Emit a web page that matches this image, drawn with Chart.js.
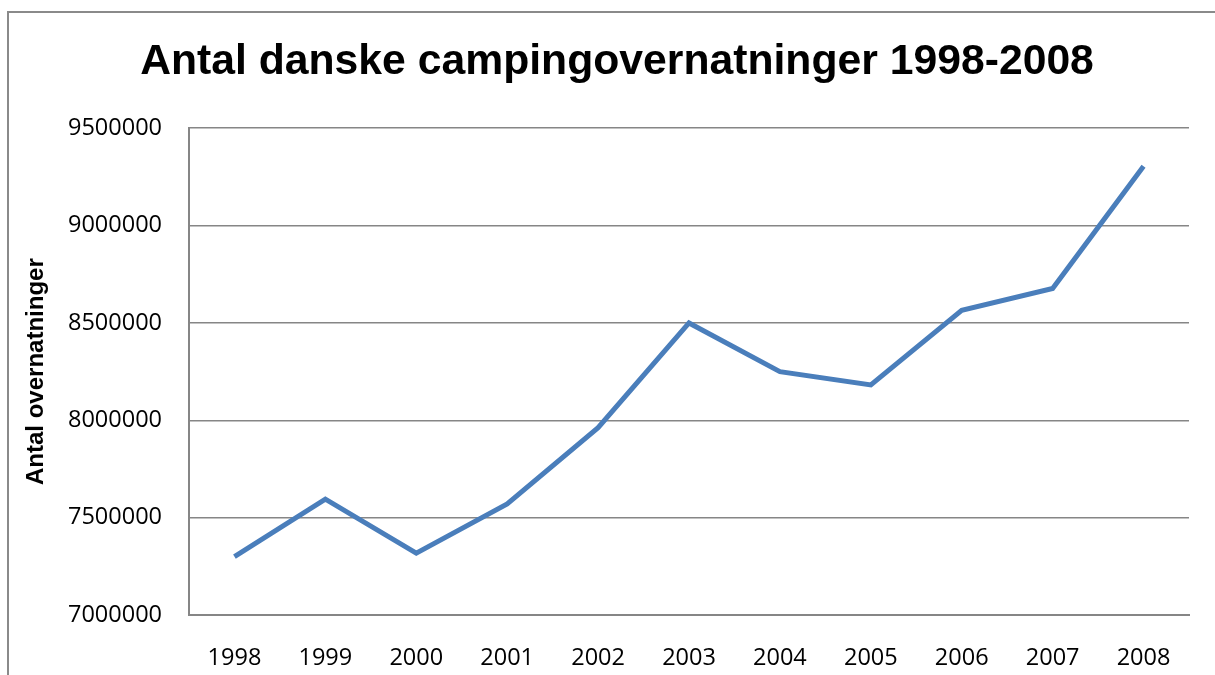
<!DOCTYPE html>
<html>
<head>
<meta charset="utf-8">
<script src="https://cdn.jsdelivr.net/npm/chart.js@4"></script>
<style>
  html, body { margin: 0; padding: 0; background: #fff; }
  #wrap { width: 1215px; height: 675px; }
</style>
</head>
<body>
<div id="wrap"><canvas id="grafico" width="1215" height="675"></canvas></div>
<script>
const aar = ['1998', '1999', '2000', '2001', '2002', '2003', '2004', '2005', '2006', '2007', '2008'];
const overnatninger = [7300000, 7595000, 7318000, 7570000, 7962000, 8500000, 8250000, 8182000, 8565000, 8677000, 9305000];
const yTicks = [7000000, 7500000, 8000000, 8500000, 9000000, 9500000];

// gray frame around the chart (only top and left edge visible)
const ramme = {
  id: 'ramme',
  beforeDraw(chart) {
    const c = chart.ctx;
    c.save();
    c.strokeStyle = '#8a8a8a';
    c.lineWidth = 2;
    c.beginPath();
    c.moveTo(8, 675);
    c.lineTo(8, 12);
    c.lineTo(1215, 12);
    c.stroke();
    c.restore();
  }
};

const ctx = document.getElementById('grafico').getContext('2d');

new Chart(ctx, {
  type: 'line',
  data: {
    labels: aar,
    datasets: [{
      label: 'Antal overnatninger',
      data: overnatninger,
      borderColor: '#4a7ebb',
      borderWidth: 5,
      pointRadius: 0,
      tension: 0,
      fill: false
    }]
  },
  options: {
    responsive: false,
    animation: false,
    layout: { padding: { left: 45, right: 26, top: 14, bottom: 4 } },
    plugins: {
      legend: { display: false },
      tooltip: { enabled: false },
      title: {
        display: true,
        text: 'Antal danske campingovernatninger 1998-2008',
        color: '#000',
        font: { family: 'Liberation Sans, Arial', size: 42.7, weight: 'bold' },
        padding: { top: 23, bottom: 40 }
      }
    },
    scales: {
      x: {
        offset: true,
        afterFit(scale) {
          scale.height = 56;
        },
        grid: { display: false, drawTicks: false },
        border: { display: true, color: '#868686', width: 2 },
        ticks: {
          color: '#000',
          padding: 29,
          maxRotation: 0,
          font: { family: 'Open Sans', size: 23.5 }
        }
      },
      y: {
        min: 7000000,
        max: 9500000,
        afterBuildTicks(scale) {
          scale.ticks = yTicks.map(v => ({ value: v }));
        },
        afterFit(scale) {
          scale.width = 189 - 45;
        },
        grid: { color: '#868686', lineWidth: 1.5, drawTicks: false },
        border: { display: true, color: '#868686', width: 2 },
        ticks: {
          color: '#000',
          padding: 27,
          font: { family: 'Open Sans', size: 23.5 },
          callback: v => String(v)
        },
        title: {
          display: true,
          text: 'Antal overnatninger',
          color: '#000',
          font: { family: 'Liberation Sans, Arial', size: 24, weight: 'bold' },
          padding: { top: -23, bottom: 0 }
        }
      }
    }
  },
  plugins: [ramme]
});
</script>
</body>
</html>
